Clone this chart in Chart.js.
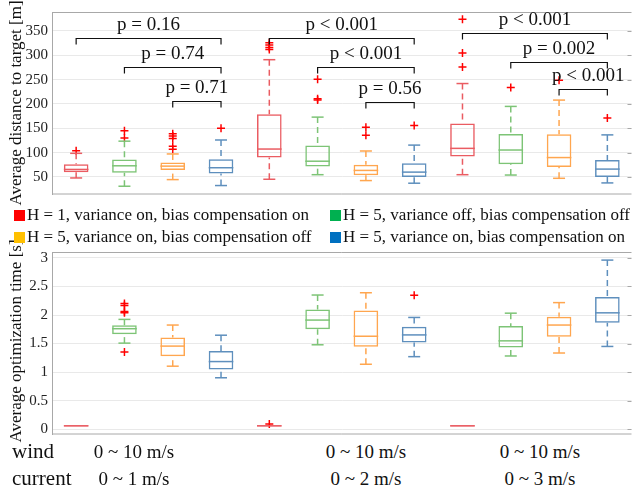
<!DOCTYPE html>
<html lang="en">
<head>
<meta charset="UTF-8">
<title>Distance and optimization time</title>
<script src="https://cdn.jsdelivr.net/npm/chart.js"></script>
<style>
  body { margin: 0; background: #fff; }
  .page { position: relative; width: 637px; height: 493px; overflow: hidden;
          font-family: 'Liberation Serif', 'Times New Roman', serif; color: #111; }
  canvas { position: absolute; left: 0; }
  #chart-dist { top: 0; }
  #chart-time { top: 240px; }
  .ytitle { position: absolute; font-size: 17px; white-space: nowrap; line-height: 1;
            transform: translate(-50%, -50%) rotate(-90deg); }
  .leg { position: absolute; font-size: 17px; white-space: nowrap; line-height: 1; z-index: 2; }
  .leg .sq { display: inline-block; width: 11px; height: 11px; margin-right: 2px; vertical-align: -1px; }
  .cond { position: absolute; font-size: 19px; white-space: nowrap; line-height: 1; }
  .cond.head { font-size: 21px; }
</style>
</head>
<body>
<div class="page" id="page">
  <canvas id="chart-dist" width="637" height="200"></canvas>
  <canvas id="chart-time" width="637" height="200"></canvas>
  <div class="ytitle" style="left:15px; top:103px;">Average distance to target [m]</div>
  <div class="ytitle" style="left:15px; top:341px;">Average optimization time [s]</div>
</div>

<script>
// 4 settings x 3 wind/current conditions
const seriesNames = [
  'H = 1, variance on, bias compensation on',
  'H = 5, variance off, bias compensation off',
  'H = 5, variance on, bias compensation off',
  'H = 5, variance on, bias compensation on'
];
const categories = [
  'c1 s1', 'c1 s2', 'c1 s3', 'c1 s4',
  'c2 s1', 'c2 s2', 'c2 s3', 'c2 s4',
  'c3 s1', 'c3 s2', 'c3 s3', 'c3 s4'
];
const windLabels = ['0 ~ 10 m/s', '0 ~ 10 m/s', '0 ~ 10 m/s'];
const currentLabels = ['0  ~ 1 m/s', '0  ~ 2 m/s', '0  ~ 3 m/s'];

// average distance to target [m]
const distLo  = [48, 31, 44.6, 32.4, 45.3, 54.7, 42.6, 37.2, 54.7, 54, 47.3, 37.8];
const distQ1  = [59.5, 58.8, 64.2, 57.4, 89.9, 71.6, 53.4, 50, 91.9, 76.4, 70.3, 50];
const distMed = [65.5, 73, 72.3, 69, 107.4, 82.4, 63.5, 60, 108.8, 105.4, 89.9, 66.2];
const distQ3  = [76.3, 85.8, 79.7, 86.5, 179, 114.9, 75, 78.4, 160, 138.5, 137.8, 85];
const distHi  = [98.6, 123.6, 97.3, 126, 291, 173, 103.4, 115.5, 242, 195, 208, 136.5];
const distOut = [[104], [130, 145], [107, 113, 129, 134, 139], [150],
                 [312, 316, 321, 326], [208, 211, 251], [136, 152], [156],
                 [276, 305, 374], [234], [249], [171]];
const distTicks = [50, 100, 150, 200, 250, 300, 350];

// average optimization time [s]
const timeLo  = [0.045, 1.507, 1.103, 0.9, 0.045, 1.478, 1.137, 1.27, 0.045, 1.282, 1.334, 1.449];
const timeQ1  = [0.045, 1.663, 1.276, 1.045, 0.045, 1.75, 1.443, 1.518, 0.045, 1.432, 1.617, 1.865];
const timeMed = [0.058, 1.76, 1.455, 1.184, 0.058, 1.911, 1.628, 1.651, 0.058, 1.547, 1.824, 2.038];
const timeQ3  = [0.07, 1.82, 1.605, 1.368, 0.07, 2.096, 2.079, 1.796, 0.07, 1.807, 1.969, 2.315];
const timeHi  = [0.07, 1.923, 1.824, 1.646, 0.07, 2.35, 2.39, 1.957, 0.07, 2.032, 2.217, 2.962];
const timeOut = [[], [1.35, 2.04, 2.06, 2.165, 2.2], [], [],
                 [0.09], [], [], [2.344],
                 [], [], [], []];
const timeTicks = [0, 0.5, 1, 1.5, 2, 2.5, 3];

// significance brackets (top panel)
const pFrom  = [0, 1, 2, 4, 5, 6, 8, 9, 10];
const pTo    = [3, 3, 3, 7, 7, 7, 11, 11, 11];
const pLevel = [335, 276, 207, 335, 276, 204, 345, 286, 230];
const pText  = ['p = 0.16', 'p = 0.74', 'p = 0.71', 'p < 0.001', 'p < 0.001', 'p = 0.56',
                'p < 0.001', 'p = 0.002', 'p < 0.001'];

const boxColors = ['#ea5c62', '#7dc476', '#ffa64f', '#5e8fbd'];
const legendColors = ['#ff0000', '#00b050', '#ffc000', '#0070c0'];
const FONT = "'Liberation Serif', 'Times New Roman', serif";

const boxPlugin = {
  id: 'boxExtras',
  afterDatasetsDraw(chart, args, o) {
    const {ctx} = chart;
    const x = chart.scales.x, y = chart.scales.y;
    const bars = chart.getDatasetMeta(0).data;
    ctx.save();
    ctx.lineWidth = 1.5;
    o.med.forEach((m, i) => {
      const cx = x.getPixelForValue(i);
      const hw = bars[i].width / 2;
      ctx.strokeStyle = boxColors[i % 4];
      // median
      ctx.setLineDash([]);
      ctx.beginPath();
      ctx.moveTo(cx - hw, y.getPixelForValue(m));
      ctx.lineTo(cx + hw, y.getPixelForValue(m));
      ctx.stroke();
      // whiskers, dashed from the cap towards the box
      [[o.hi[i], o.q3[i]], [o.lo[i], o.q1[i]]].forEach(([end, edge]) => {
        if (end === edge) return;
        const pe = y.getPixelForValue(end);
        ctx.setLineDash([6, 4]);
        ctx.beginPath();
        ctx.moveTo(cx, pe);
        ctx.lineTo(cx, y.getPixelForValue(edge));
        ctx.stroke();
        ctx.setLineDash([]);
        ctx.beginPath();
        ctx.moveTo(cx - 6, pe);
        ctx.lineTo(cx + 6, pe);
        ctx.stroke();
      });
    });
    ctx.restore();
  }
};

const framePlugin = {
  id: 'frame',
  afterDraw(chart) {
    const {ctx, chartArea: a} = chart;
    const y = chart.scales.y;
    ctx.save();
    ctx.strokeStyle = '#a8a8a8';
    ctx.lineWidth = 1;
    ctx.beginPath();
    ctx.moveTo(a.left, a.top + 0.5); ctx.lineTo(a.right, a.top + 0.5);
    ctx.moveTo(a.left, a.bottom - 0.5); ctx.lineTo(a.right, a.bottom - 0.5);
    y.ticks.forEach(t => {
      const py = Math.round(y.getPixelForValue(t.value)) + 0.5;
      ctx.moveTo(a.right - 4, py); ctx.lineTo(a.right, py);
    });
    ctx.stroke();
    ctx.restore();
  }
};

const bracketPlugin = {
  id: 'brackets',
  afterDraw(chart, args, o) {
    if (!o.on) return;
    const {ctx} = chart;
    const x = chart.scales.x, y = chart.scales.y;
    ctx.save();
    ctx.strokeStyle = '#111';
    ctx.fillStyle = '#111';
    ctx.lineWidth = 1.2;
    ctx.font = '19px ' + FONT;
    ctx.textAlign = 'center';
    ctx.textBaseline = 'middle';
    pFrom.forEach((a, k) => {
      const x1 = x.getPixelForValue(a), x2 = x.getPixelForValue(pTo[k]);
      const py = Math.round(y.getPixelForValue(pLevel[k])) + 0.5;
      ctx.beginPath();
      ctx.moveTo(x1, py + 6); ctx.lineTo(x1, py); ctx.lineTo(x2, py); ctx.lineTo(x2, py + 6);
      ctx.stroke();
      // last label sits a little right of its bracket in the original
      const tx = (x1 + x2) / 2 + (k === pFrom.length - 1 ? 5 : 0);
      ctx.fillText(pText[k], tx, py - 13);
    });
    ctx.restore();
  }
};

function makeChart(id, lo, q1, med, q3, hi, out, yMin, yMax, ticks, pad, brackets) {
  const outliers = [];
  out.forEach((vals, i) => vals.forEach(v => outliers.push({x: categories[i], y: v})));
  return new Chart(document.getElementById(id), {
    type: 'bar',
    data: {
      labels: categories,
      datasets: [{
        type: 'bar',
        data: q1.map((v, i) => [v, q3[i]]),
        backgroundColor: 'rgba(0,0,0,0)',
        borderColor: categories.map((c, i) => boxColors[i % 4]),
        borderWidth: 1.5,
        borderSkipped: false,
        barPercentage: 0.51,
        categoryPercentage: 1
      }, {
        type: 'scatter',
        data: outliers,
        pointStyle: 'cross',
        pointRadius: 4,
        borderColor: '#ff0000',
        borderWidth: 1.5
      }]
    },
    options: {
      responsive: false,
      animation: false,
      devicePixelRatio: 1,
      layout: { padding: pad },
      plugins: {
        legend: { display: false },
        tooltip: { enabled: false },
        boxExtras: { lo: lo, q1: q1, med: med, q3: q3, hi: hi },
        brackets: { on: brackets }
      },
      scales: {
        x: { display: false },
        y: {
          min: yMin, max: yMax,
          afterBuildTicks: s => { s.ticks = ticks.map(v => ({value: v})); },
          afterFit: s => { s.width = 52; s.paddingTop = 0; s.paddingBottom = 0; },
          ticks: { font: { family: FONT, size: 15 }, color: '#222', padding: 4,
                   callback: v => String(v) },
          grid: { color: '#e9e9e9', drawTicks: false },
          border: { color: '#a8a8a8' }
        }
      }
    },
    plugins: [boxPlugin, framePlugin, bracketPlugin]
  });
}

makeChart('chart-dist', distLo, distQ1, distMed, distQ3, distHi, distOut, 14, 389, distTicks,
          {top: 12, bottom: 3, left: 0, right: 0}, true);
makeChart('chart-time', timeLo, timeQ1, timeMed, timeQ3, timeHi, timeOut, -0.094, 3.104, timeTicks,
          {top: 12, bottom: 4, left: 0, right: 0}, false);

// legend and condition labels
const page = document.getElementById('page');
const legPos = [[14, 206], [330, 206], [14, 228], [330, 228]];
seriesNames.forEach((name, i) => {
  const d = document.createElement('div');
  d.className = 'leg';
  d.style.left = legPos[i][0] + 'px';
  d.style.top = legPos[i][1] + 'px';
  d.innerHTML = '<span class="sq" style="background:' + legendColors[i] + '"></span>' + name;
  page.appendChild(d);
});
const condX = [134, 366, 540];
function addText(txt, left, top, cls, center) {
  const d = document.createElement('div');
  d.className = cls;
  d.textContent = txt;
  d.style.left = left + 'px';
  d.style.top = top + 'px';
  if (center) d.style.transform = 'translateX(-50%)';
  page.appendChild(d);
}
addText('wind', 12, 441, 'cond head', false);
addText('current', 12, 468, 'cond head', false);
windLabels.forEach((t, i) => addText(t, condX[i], 442, 'cond', true));
currentLabels.forEach((t, i) => addText(t, condX[i], 469, 'cond', true));
</script>
</body>
</html>
